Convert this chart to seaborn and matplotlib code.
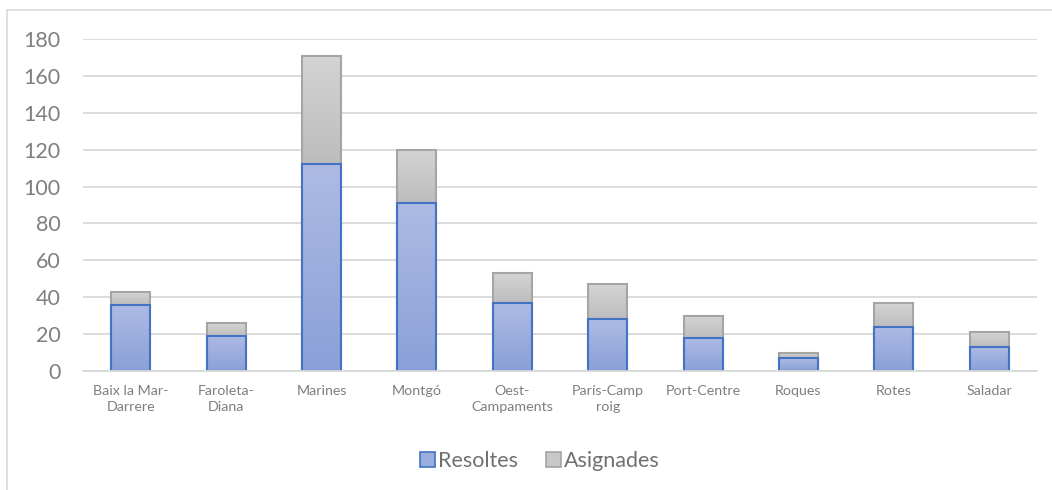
import numpy as np
import matplotlib
matplotlib.use("Agg")
import matplotlib.pyplot as plt
import seaborn as sns
from matplotlib.patches import Patch
from matplotlib.lines import Line2D
from matplotlib.colors import LinearSegmentedColormap

# data
categories = ["Baix la Mar-Darrere", "Faroleta-Diana", "Marines", "Montgó",
              "Oest-Campaments", "París-Camp roig", "Port-Centre", "Roques",
              "Rotes", "Saladar"]
tick_labels = ["Baix la Mar-\nDarrere", "Faroleta-\nDiana", "Marines", "Montgó",
               "Oest-\nCampaments", "París-Camp\nroig", "Port-Centre", "Roques",
               "Rotes", "Saladar"]
resoltes = [36, 19, 112, 91, 37, 28, 18, 7, 24, 13]
asignades = [7, 7, 59, 29, 16, 19, 12, 3, 13, 8]
y_ticks = [0, 20, 40, 60, 80, 100, 120, 140, 160, 180]

totals = [r + a for r, a in zip(resoltes, asignades)]

sns.set_style("white")
plt.rcParams['font.family'] = ['Lato', 'DejaVu Sans']

fig = plt.figure(figsize=(10.52, 4.9), dpi=100)
ax = fig.add_axes([83 / 1052, 1 - 371 / 490, (1037 - 83) / 1052, (371 - 39) / 490])

# outer chart frame (only left and top edges are visible in the crop)
fig.add_artist(Line2D([7 / 1052, 7 / 1052], [0, 1 - 10 / 490],
                      transform=fig.transFigure, color="#d9d9d9", lw=1.2))
fig.add_artist(Line2D([7 / 1052, 1], [1 - 10 / 490, 1 - 10 / 490],
                      transform=fig.transFigure, color="#d9d9d9", lw=1.2))

gray_edge = "#a5a5a5"
blue_edge = "#4472c4"

sns.barplot(x=categories, y=totals, color="#c8c8c8", edgecolor=gray_edge,
            linewidth=1.5, width=0.41, saturation=1, ax=ax)
n_gray = len(ax.patches)
sns.barplot(x=categories, y=resoltes, color="#9aaedd", edgecolor=blue_edge,
            linewidth=1.5, width=0.41, saturation=1, ax=ax)

# vertical gradients like the office-style fill
blue_cmap = LinearSegmentedColormap.from_list("b", ["#8aa0d8", "#adbbe4"])
gray_cmap = LinearSegmentedColormap.from_list("g", ["#bdbdbd", "#d4d4d4"])
grad = np.linspace(0, 1, 64).reshape(-1, 1)
for i, p in enumerate(ax.patches):
    x0, y0 = p.get_x(), p.get_y()
    w, h = p.get_width(), p.get_height()
    cmap = gray_cmap if i < n_gray else blue_cmap
    top = y0 + h
    bottom = y0
    if i < n_gray:
        bottom = resoltes[i]
    img = ax.imshow(grad, cmap=cmap, origin="lower", aspect="auto",
                    extent=[x0, x0 + w, bottom, top], zorder=p.get_zorder() - 0.1,
                    interpolation="bilinear")
    img.set_clip_path(p)
    p.set_facecolor("none")

ax.set_xlim(-0.5, len(categories) - 0.5)
ax.set_ylim(0, 180)
ax.set_yticks(y_ticks)
ax.set_xticks(range(len(categories)))
ax.set_xticklabels(tick_labels, fontsize=10.3, color="#7f7f7f", linespacing=1.4)
ax.tick_params(axis="y", labelsize=15.5, labelcolor="#7f7f7f", length=0, pad=16)
ax.tick_params(axis="x", length=0, pad=10)
ax.set_xlabel("")
ax.set_ylabel("")
ax.yaxis.grid(True, color="#d9d9d9", lw=1.3)
ax.set_axisbelow(True)
for s in ["top", "right", "left"]:
    ax.spines[s].set_visible(False)
ax.spines["bottom"].set_color("#d9d9d9")
ax.spines["bottom"].set_linewidth(1.3)

handles = [Patch(facecolor="#9aaedd", edgecolor=blue_edge, lw=1.2, label="Resoltes"),
           Patch(facecolor="#c8c8c8", edgecolor=gray_edge, lw=1.2, label="Asignades")]
fig.legend(handles=handles, loc="center", bbox_to_anchor=(540 / 1052, 1 - 461 / 490),
           ncol=2, frameon=False, fontsize=15.5, labelcolor="#707070",
           handlelength=0.7, handleheight=0.7, handletextpad=0.15, columnspacing=1.3)

fig.savefig("out.png", dpi=100)
